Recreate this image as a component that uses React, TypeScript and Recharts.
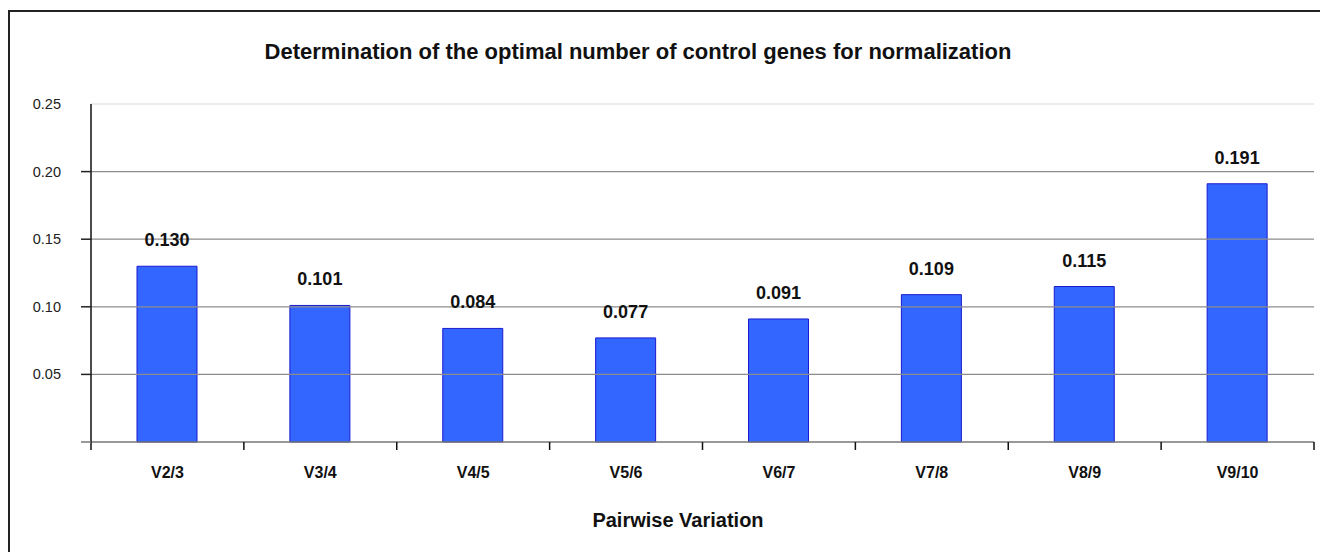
import React from "react";
import { BarChart, Bar, XAxis, YAxis, ReferenceLine, LabelList } from "recharts";

const categories = ["V2/3", "V3/4", "V4/5", "V5/6", "V6/7", "V7/8", "V8/9", "V9/10"];
const pairwiseV = [0.13, 0.101, 0.084, 0.077, 0.091, 0.109, 0.115, 0.191];
const yTicks = [0, 0.05, 0.1, 0.15, 0.2, 0.25];
const gridValues = [0.05, 0.1, 0.15, 0.2];

const FONT = "'Liberation Sans', Arial, Helvetica, sans-serif";

const data = categories.map((name, i) => ({ name, v: pairwiseV[i] }));

// y tick: label except at 0, little tick line except at the top value
function YTick(props: any) {
  const { x, y, payload } = props;
  const v = payload.value as number;
  const axisX = x + 30;
  return (
    <g>
      {v < 0.25 && (
        <line x1={axisX - 10} x2={axisX} y1={y} y2={y} stroke={v === 0 ? "#777" : "#222"} strokeWidth={1.5} />
      )}
      {v > 0 && (
        <text x={x} y={y} dy={5} textAnchor="end" fontSize={14.5} fill="#222" fontFamily={FONT}>
          {v.toFixed(2)}
        </text>
      )}
    </g>
  );
}

// x tick: bold label in the band center, tick marks at the band edges
function XTick(props: any) {
  const { x, y, payload, index, visibleTicksCount, width } = props;
  const half = payload.offset ?? width / visibleTicksCount / 2;
  const last = index === visibleTicksCount - 1;
  return (
    <g>
      <line x1={x - half} x2={x - half} y1={y} y2={y + 8} stroke="#111" strokeWidth={1.5} />
      {last && <line x1={x + half} x2={x + half} y1={y} y2={y + 8} stroke="#111" strokeWidth={1.5} />}
      <text x={x} y={y + 36} textAnchor="middle" fontSize={16} fontWeight="bold" fill="#111" fontFamily={FONT}>
        {payload.value}
      </text>
    </g>
  );
}

export default function App() {
  return (
    <div style={{ position: "relative", width: 1312, height: 544, fontFamily: FONT }}>
      {/* frame: only left and top edges fall inside the picture */}
      <div
        style={{
          position: "absolute",
          left: 0,
          top: 2,
          width: 1312,
          height: 550,
          boxSizing: "border-box",
          borderLeft: "2px solid #222",
          borderTop: "2px solid #222",
        }}
      />
      <div
        style={{
          position: "absolute",
          left: 630,
          top: 44,
          transform: "translate(-50%, -50%)",
          whiteSpace: "nowrap",
          fontSize: 22,
          fontWeight: "bold",
          color: "#111",
        }}
      >
        Determination of the optimal number of control genes for normalization
      </div>
      <div
        style={{
          position: "absolute",
          left: 670,
          top: 512,
          transform: "translate(-50%, -50%)",
          whiteSpace: "nowrap",
          fontSize: 20,
          fontWeight: "bold",
          color: "#111",
        }}
      >
        Pairwise Variation
      </div>
      <div style={{ position: "absolute", left: -8, top: -8 }}>
        <BarChart
          width={1328}
          height={560}
          data={data}
          margin={{ top: 104, right: 14, bottom: 88, left: 0 }}
        >
          <ReferenceLine y={0.25} stroke="#e6e6e6" strokeWidth={1.5} />
          {gridValues.map((g) => (
            <ReferenceLine key={g} y={g} stroke="#8c8c8c" strokeWidth={1.2} />
          ))}
          <XAxis
            dataKey="name"
            axisLine={{ stroke: "#777", strokeWidth: 1.5 }}
            tickLine={false}
            tickSize={0}
            tickMargin={0}
            height={30}
            interval={0}
            tick={<XTick />}
          />
          <YAxis
            domain={[0, 0.25]}
            ticks={yTicks}
            width={91}
            axisLine={{ stroke: "#111", strokeWidth: 1.5 }}
            tickLine={false}
            tickSize={10}
            tickMargin={20}
            tick={<YTick />}
          />
          <Bar dataKey="v" fill="#3366FF" stroke="#1a1ad0" strokeWidth={1} barSize={60} isAnimationActive={false}>
            <LabelList
              dataKey="v"
              position="top"
              offset={20}
              formatter={(v: any) => Number(v).toFixed(3)}
              style={{ fontSize: 18, fontWeight: "bold", fill: "#111", fontFamily: FONT }}
            />
          </Bar>
        </BarChart>
      </div>
    </div>
  );
}
